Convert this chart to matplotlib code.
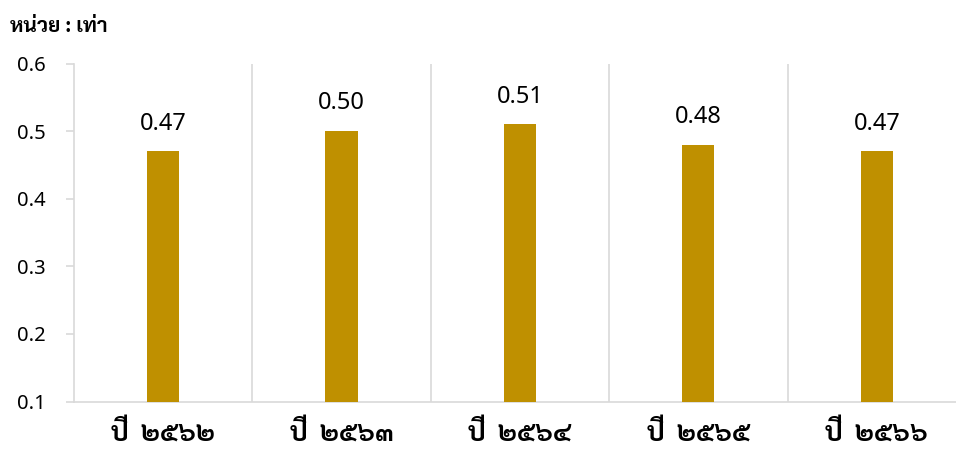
import matplotlib
matplotlib.use('Agg')
import matplotlib.pyplot as plt

categories = ['ปี  ๒๕๖๒', 'ปี  ๒๕๖๓', 'ปี  ๒๕๖๔', 'ปี  ๒๕๖๕', 'ปี  ๒๕๖๖']
values = [0.47, 0.50, 0.51, 0.48, 0.47]
yticks = [0.1, 0.2, 0.3, 0.4, 0.5, 0.6]
unit_label = 'หน่วย : เท่า'

gray = '#d9d9d9'
fig = plt.figure(figsize=(9.56, 4.54), dpi=100)
ax = fig.add_axes([73.7 / 956, 1 - 401.5 / 454, (966 - 73.7) / 956, (401.5 - 63.5) / 454])

x = list(range(len(categories)))
ax.bar(x, [v - 0.1 for v in values], bottom=0.1, width=0.181, color='#BF9000', zorder=3)
for xi, v in zip(x, values):
    ax.annotate(f'{v:.2f}', (xi, v), xytext=(0, 20), textcoords='offset points',
                ha='center', va='center', fontsize=17, family='Noto Sans')

ax.set_xlim(-0.5, len(categories) - 0.5)
ax.set_ylim(0.1, 0.6)
ax.set_yticks(yticks)
ax.set_yticklabels([f'{t:.1f}' for t in yticks], fontsize=14.5, family='Noto Sans')
for sep in range(1, len(categories)):
    ax.axvline(sep - 0.5, color=gray, lw=1.2, zorder=1)

ax.set_xticks(x)
ax.set_xticklabels(categories, fontsize=19, fontweight='bold', family=['Sarabun', 'DejaVu Sans'])
ax.tick_params(axis='x', length=0, pad=13)
ax.tick_params(axis='y', length=6, width=1.2, color=gray, pad=14)

for s in ['top', 'right']:
    ax.spines[s].set_visible(False)
for s in ['left', 'bottom']:
    ax.spines[s].set_color(gray)
    ax.spines[s].set_linewidth(1.2)

fig.text(10 / 956, 1 - 26 / 454, unit_label, fontsize=15, fontweight='bold',
         family=['Sarabun', 'DejaVu Sans'], va='center', ha='left')

fig.savefig('out.png', dpi=100)
